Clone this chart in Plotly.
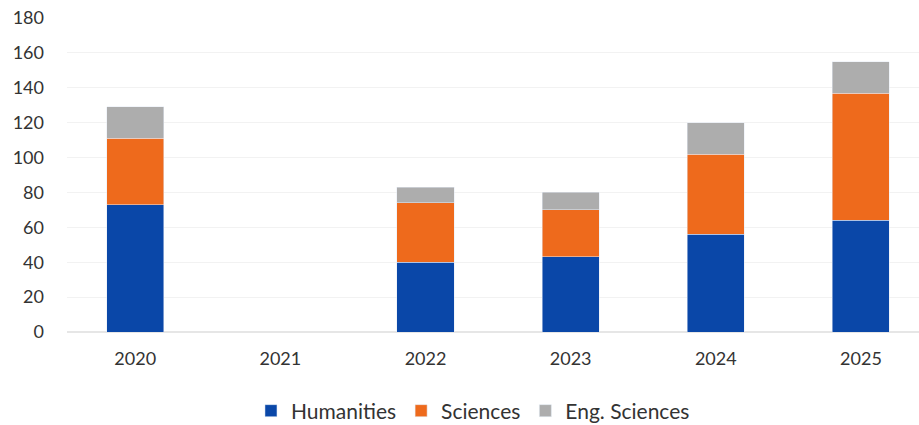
import plotly.graph_objects as go

years = ["2020", "2021", "2022", "2023", "2024", "2025"]
humanities = [73, None, 40, 43, 56, 64]
sciences = [38, None, 34, 27, 46, 73]
eng_sciences = [18, None, 9, 10, 18, 18]
y_ticks = [0, 20, 40, 60, 80, 100, 120, 140, 160, 180]

fig = go.Figure()
fig.add_bar(name="Humanities", x=years, y=humanities, marker_color="#0A47A8")
fig.add_bar(name="Sciences", x=years, y=sciences, marker_color="#EE6A1C")
fig.add_bar(name="Eng. Sciences", x=years, y=eng_sciences, marker_color="#ADADAD")

font = dict(family="Lato, Open Sans, sans-serif", size=18, color="#333333")
fig.update_layout(
    barmode="stack",
    bargap=0.607,
    width=919, height=425,
    margin=dict(l=67, r=0, t=18, b=93, autoexpand=False),
    paper_bgcolor="white", plot_bgcolor="white",
    font=font,
    legend=dict(orientation="h", x=0.4765, xref="paper", xanchor="center",
                y=14 / 425, yref="container", yanchor="middle",
                font=dict(family="Lato, Open Sans, sans-serif", size=21, color="#333333"),
                itemwidth=30, traceorder="normal"),
    showlegend=True,
)
fig.update_xaxes(type="category", range=[-0.47, 5.40], showgrid=False,
                 showline=False, zeroline=False, ticks="", ticklabelstandoff=14,
                 automargin=False)
fig.update_yaxes(range=[0, 180], tickvals=y_ticks, showgrid=True,
                 gridcolor="#F2F2F2", gridwidth=1, zeroline=True,
                 zerolinecolor="#E6E6E6", ticks="", ticklabelstandoff=22,
                 automargin=False)

fig.write_html("out.html", config={"displayModeBar": False},
               post_script="document.body.style.margin='0px';document.body.style.overflow='hidden';")
